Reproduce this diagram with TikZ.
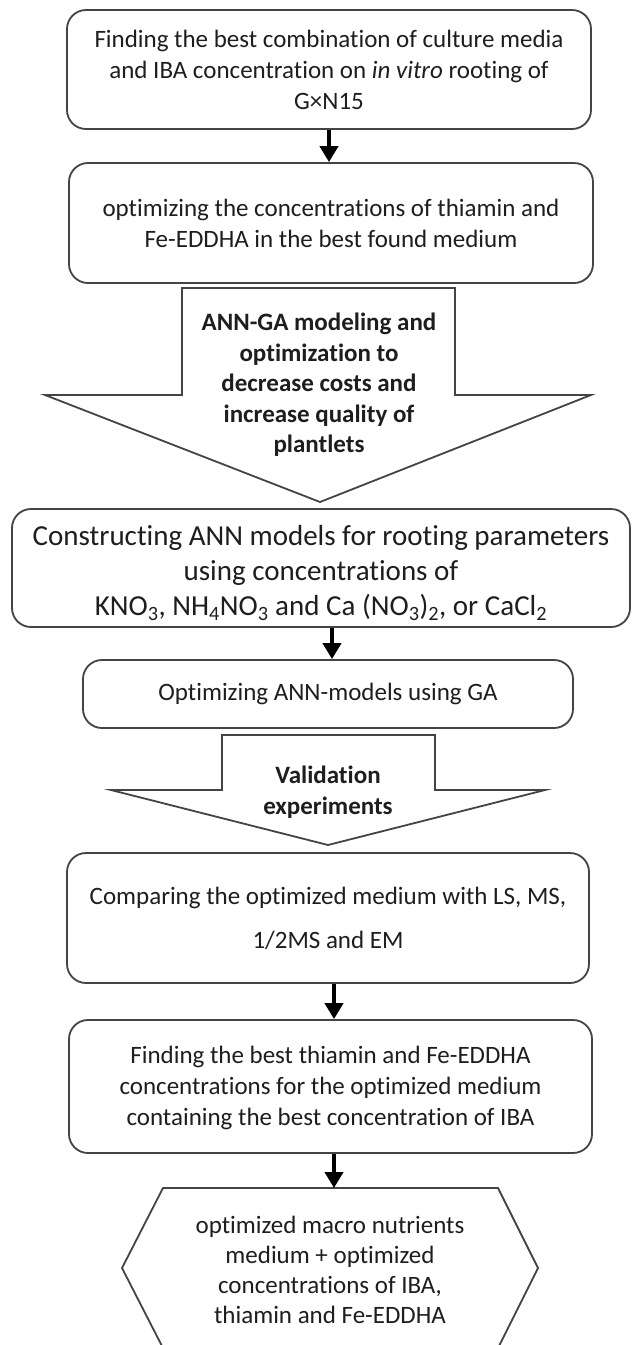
\documentclass[tikz,border=0pt]{standalone}
\usepackage{fontspec}
\setmainfont{Carlito}[Ligatures=NoCommon]
\usetikzlibrary{arrows.meta}
\definecolor{edge}{HTML}{444444}
\definecolor{txt}{HTML}{1E1E1E}
\begin{document}
\begin{tikzpicture}[x=1pt,y={(0pt,-1pt)},
  box/.style={draw=edge, line width=1.8pt, rounded corners=19pt, align=center, text=txt, inner sep=0pt},
  f25/.style={font=\fontsize{25}{31}\selectfont},
  flow/.style={draw=black, line width=4.5pt, -{Triangle[width=18pt,length=16pt]}},
  bigarrow/.style={draw=edge, line width=1.8pt, fill=white},
  plain/.style={align=center, text=txt, inner sep=0pt},
  atext/.style={align=center, text=txt, font=\fontsize{25}{30.5}\selectfont\bfseries}]
\useasboundingbox (0,0) rectangle (635,1345);
\fill[white] (0,0) rectangle (635,1345);

\node[box, f25, minimum width=524pt, minimum height=119pt] (b1) at (329,69.5)
  {Finding the best combination of culture media\\and IBA concentration on \emph{in vitro} rooting of\\G×N15};
\node[box, f25, minimum width=524pt, minimum height=120pt] (b2) at (331,223)
  {optimizing the concentrations of thiamin and\\Fe-EDDHA in the best found medium};

\draw[bigarrow] (182,288) -- (455,288) -- (455,395) -- (591,395) -- (320,502) -- (45,395) -- (182,395) -- cycle;
\node[atext] (a1) at (319,385) {ANN-GA modeling and\\optimization to\\decrease costs and\\increase quality of\\plantlets};

\node[box, minimum width=618pt, minimum height=118pt] (b3) at (321,568) {};
\node[plain, font=\fontsize{29}{35}\selectfont] (b3t) at ([yshift=-5pt]b3.center)
  {Constructing ANN models for rooting parameters\\using concentrations of\\KNO\textsubscript{3}, NH\textsubscript{4}NO\textsubscript{3} and Ca (NO\textsubscript{3})\textsubscript{2}, or CaCl\textsubscript{2}};

\node[box, font=\fontsize{25}{30}\selectfont, minimum width=490pt, minimum height=68pt] (b4) at (328,694)
  {Optimizing ANN-models using GA};

\draw[bigarrow] (222,735) -- (435,735) -- (435,790) -- (545,790) -- (328,845) -- (111,790) -- (222,790) -- cycle;
\node[atext] (a2) at (328,792) {Validation\\experiments};

\node[box, font=\fontsize{25}{44}\selectfont, minimum width=522pt, minimum height=130pt] (b5) at (328,918)
  {Comparing the optimized medium with LS, MS,\\1/2MS and EM};

\node[box, minimum width=523pt, minimum height=133pt] (b6) at (330.5,1086.5) {};
\node[plain, font=\fontsize{25}{31}\selectfont] (b6t) at ([yshift=-1.5pt]b6.center)
  {Finding the best thiamin and Fe-EDDHA\\concentrations for the optimized medium\\containing the best concentration of IBA};

\coordinate (hexTop) at (334,1188);
\draw[draw=edge, line width=1.8pt] (163,1188) -- (498,1188) -- (538,1268) -- (498,1348) -- (163,1348) -- (122,1268) -- cycle;
\node[plain, font=\fontsize{25}{30}\selectfont] (b7) at (330,1270)
  {optimized macro nutrients\\medium + optimized\\concentrations of IBA,\\thiamin and Fe-EDDHA};

\draw[flow] (b1.south -| 329,0) -- (b2.north -| 329,0);
\draw[flow] (b3.south -| 332,0) -- (b4.north -| 332,0);
\draw[flow] (b5.south -| 334,0) -- (b6.north -| 334,0);
\draw[flow] (b6.south -| hexTop) -- (hexTop);
\end{tikzpicture}
\end{document}
